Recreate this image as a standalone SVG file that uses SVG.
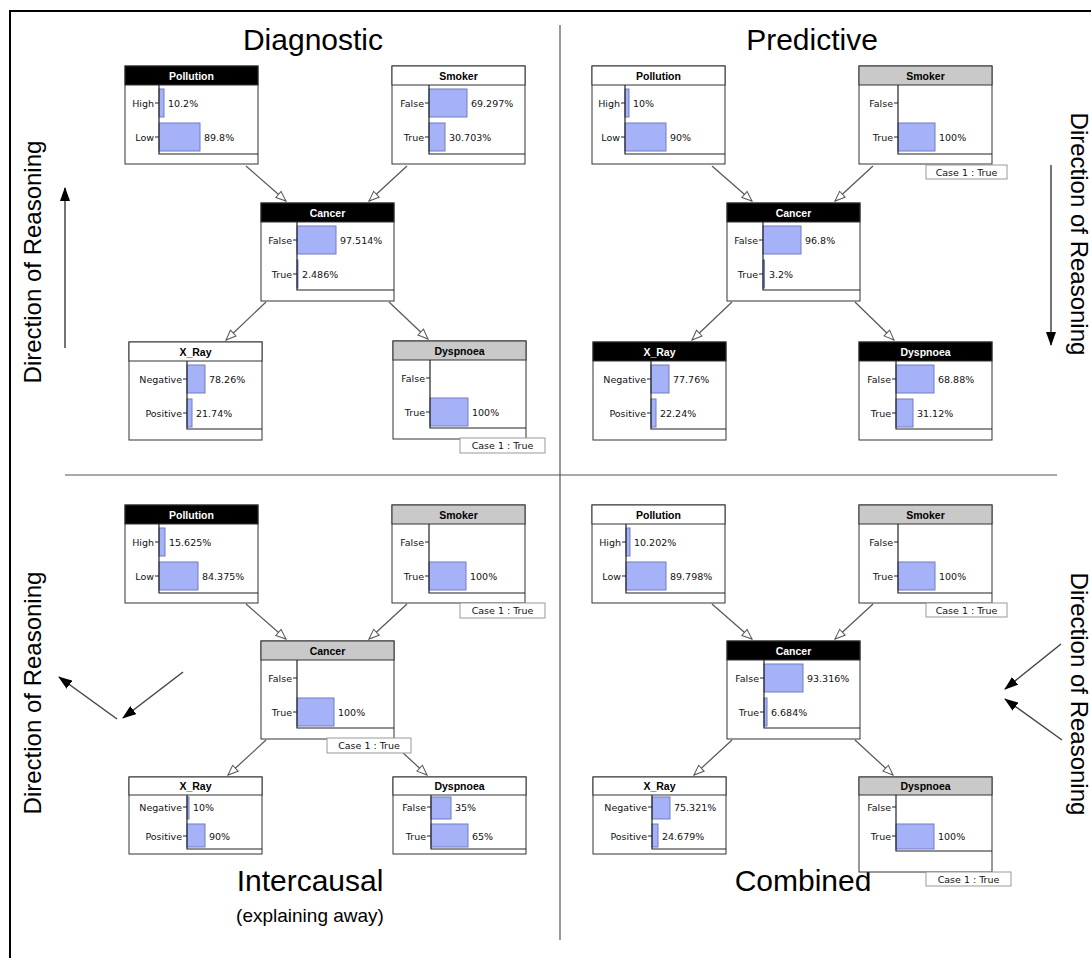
<svg xmlns="http://www.w3.org/2000/svg" width="1091" height="958" viewBox="0 0 1091 958">
<style>
.box{fill:#fff;stroke:#333;stroke-width:1}
.hb{fill:#000;stroke:#333;stroke-width:1}
.hg{fill:#c9c9c9;stroke:#333;stroke-width:1}
.hw{fill:#fff;stroke:#333;stroke-width:1}
.ht{font-family:"Liberation Sans",Arial,sans-serif;font-weight:bold;font-size:10.5px;text-anchor:middle;fill:#000}
.w{fill:#fff}
.lb{font-family:"DejaVu Sans",sans-serif;font-size:9.5px;text-anchor:end;fill:#111}
.val{font-family:"DejaVu Sans",sans-serif;font-size:9.5px;fill:#111}
.bar{fill:#a6b2f7;stroke:#6f7cc4;stroke-width:1}
.ax{fill:none;stroke:#222;stroke-width:1.2}
.case rect{fill:#fff;stroke:#999;stroke-width:1}
.case text{font-family:"DejaVu Sans",sans-serif;font-size:9.5px;text-anchor:middle;fill:#111}
.title{font-family:"Liberation Sans",Arial,sans-serif;font-size:30px;text-anchor:middle;fill:#000}
.sub{font-family:"Liberation Sans",Arial,sans-serif;font-size:19px;text-anchor:middle;fill:#000}
.dir{font-family:"Liberation Sans",Arial,sans-serif;font-size:24px;text-anchor:middle;fill:#000}
.edge{fill:none;stroke:#555;stroke-width:1.2;marker-end:url(#open)}
.darr{fill:none;stroke:#444;stroke-width:1.5;marker-end:url(#solid)}
.div{stroke:#555;stroke-width:1.2}
</style>
<defs>
<marker id="open" viewBox="0 0 12 10" refX="11" refY="5" markerWidth="12" markerHeight="10" markerUnits="userSpaceOnUse" orient="auto">
<path d="M1,1 L11,5 L1,9 Z" fill="#fff" stroke="#555" stroke-width="1"/>
</marker>
<marker id="solid" viewBox="0 0 14 10" refX="13" refY="5" markerWidth="14" markerHeight="10" markerUnits="userSpaceOnUse" orient="auto">
<path d="M0,0 L14,5 L0,10 Z" fill="#000"/>
</marker>
</defs>
<rect width="1091" height="958" fill="#fff"/>
<g id="frame">
<path d="M10,958 V11 H1091" fill="none" stroke="#000" stroke-width="2"/>
<line class="div" x1="560" y1="25" x2="560" y2="940"/>
<line class="div" x1="65" y1="475" x2="1057" y2="475"/>
</g>
<g id="labels">
<text class="title" x="313" y="50">Diagnostic</text>
<text class="title" x="812" y="50">Predictive</text>
<text class="title" x="310" y="891">Intercausal</text>
<text class="sub" x="310" y="922">(explaining away)</text>
<text class="title" x="803" y="891">Combined</text>
<text class="dir" transform="translate(41,262) rotate(-90)">Direction of Reasoning</text>
<text class="dir" transform="translate(1071,234) rotate(90)">Direction of Reasoning</text>
<text class="dir" transform="translate(41,693) rotate(-90)">Direction of Reasoning</text>
<text class="dir" transform="translate(1071,694) rotate(90)">Direction of Reasoning</text>
</g>
<g id="reasoning-arrows">
<path class="darr" d="M65,348 V188"/>
<path class="darr" d="M1051,165 V345"/>
<path class="darr" d="M183,672 L123,718"/>
<path class="darr" d="M117,719 L59,677"/>
<path class="darr" d="M1061,644 L1005,689"/>
<path class="darr" d="M1062,740 L1005,699"/>
</g>
<g id="connectors">
<path class="edge" d="M246,166 L286,201"/>
<path class="edge" d="M407,166 L369,201"/>
<path class="edge" d="M266,302 L226,340"/>
<path class="edge" d="M389,302 L428,339"/>
<path class="edge" d="M712,166 L752,201"/>
<path class="edge" d="M873,166 L835,201"/>
<path class="edge" d="M732,302 L692,340"/>
<path class="edge" d="M855,302 L894,340"/>
<path class="edge" d="M246,604 L286,639"/>
<path class="edge" d="M407,604 L369,639"/>
<path class="edge" d="M266,740 L228,775"/>
<path class="edge" d="M389,740 L427,775"/>
<path class="edge" d="M712,604 L752,639"/>
<path class="edge" d="M873,604 L835,639"/>
<path class="edge" d="M732,740 L694,775"/>
<path class="edge" d="M855,740 L893,775"/>
</g>

<!-- Q1 Diagnostic -->
<g id="q1-pollution" transform="translate(125,66)">
<rect class="box" width="133" height="98"/><rect class="hb" width="133" height="19"/>
<text class="ht w" x="66.5" y="14">Pollution</text>
<rect class="bar" x="34" y="23" width="5" height="28"/><rect class="bar" x="34" y="57" width="41" height="28"/>
<path class="ax" d="M34,19V88H133M30,37H34M30,71H34"/>
<text class="lb" x="29" y="41">High</text><text class="lb" x="29" y="75">Low</text>
<text class="val" x="43" y="41">10.2%</text><text class="val" x="79" y="75">89.8%</text>
</g>
<g id="q1-smoker" transform="translate(392,66)">
<rect class="box" width="133" height="98"/><rect class="hw" width="133" height="19"/>
<text class="ht" x="66.5" y="14">Smoker</text>
<rect class="bar" x="37" y="23" width="38" height="28"/><rect class="bar" x="37" y="57" width="16" height="28"/>
<path class="ax" d="M37,19V88H133M33,37H37M33,71H37"/>
<text class="lb" x="32" y="41">False</text><text class="lb" x="32" y="75">True</text>
<text class="val" x="79" y="41">69.297%</text><text class="val" x="57" y="75">30.703%</text>
</g>
<g id="q1-cancer" transform="translate(261,203)">
<rect class="box" width="133" height="98"/><rect class="hb" width="133" height="19"/>
<text class="ht w" x="66.5" y="14">Cancer</text>
<rect class="bar" x="36" y="23" width="39" height="28"/><rect class="bar" x="36" y="57" width="1" height="28"/>
<path class="ax" d="M36,19V87H133M32,37H36M32,71H36"/>
<text class="lb" x="31" y="41">False</text><text class="lb" x="31" y="75">True</text>
<text class="val" x="79" y="41">97.514%</text><text class="val" x="41" y="75">2.486%</text>
</g>
<g id="q1-xray" transform="translate(129,342)">
<rect class="box" width="133" height="98"/><rect class="hw" width="133" height="19"/>
<text class="ht" x="66.5" y="14">X_Ray</text>
<rect class="bar" x="58" y="23" width="18" height="28"/><rect class="bar" x="58" y="57" width="5" height="28"/>
<path class="ax" d="M58,19V87H133M54,37H58M54,71H58"/>
<text class="lb" x="53" y="41">Negative</text><text class="lb" x="53" y="75">Positive</text>
<text class="val" x="80" y="41">78.26%</text><text class="val" x="67" y="75">21.74%</text>
</g>
<g id="q1-dyspnoea" transform="translate(393,341)">
<rect class="box" width="133" height="98"/><rect class="hg" width="133" height="19"/>
<text class="ht" x="66.5" y="14">Dyspnoea</text>
<rect class="bar" x="37" y="57" width="38" height="28"/>
<path class="ax" d="M37,19V87H133M33,37H37M33,71H37"/>
<text class="lb" x="32" y="41">False</text><text class="lb" x="32" y="75">True</text>
<text class="val" x="79" y="75">100%</text>
<g class="case"><rect x="67" y="97" width="85" height="15"/><text x="109.5" y="108">Case 1 : True</text></g>
</g>

<!-- Q2 Predictive -->
<g id="q2-pollution" transform="translate(592,66)">
<rect class="box" width="133" height="98"/><rect class="hw" width="133" height="19"/>
<text class="ht" x="66.5" y="14">Pollution</text>
<rect class="bar" x="33" y="23" width="4" height="28"/><rect class="bar" x="33" y="57" width="41" height="28"/>
<path class="ax" d="M33,19V88H133M29,37H33M29,71H33"/>
<text class="lb" x="28" y="41">High</text><text class="lb" x="28" y="75">Low</text>
<text class="val" x="41" y="41">10%</text><text class="val" x="78" y="75">90%</text>
</g>
<g id="q2-smoker" transform="translate(859,66)">
<rect class="box" width="133" height="98"/><rect class="hg" width="133" height="19"/>
<text class="ht" x="66.5" y="14">Smoker</text>
<rect class="bar" x="39" y="57" width="37" height="28"/>
<path class="ax" d="M39,19V88H133M35,37H39M35,71H39"/>
<text class="lb" x="34" y="41">False</text><text class="lb" x="34" y="75">True</text>
<text class="val" x="80" y="75">100%</text>
<g class="case"><rect x="67" y="99" width="81" height="14"/><text x="107.5" y="110">Case 1 : True</text></g>
</g>
<g id="q2-cancer" transform="translate(727,203)">
<rect class="box" width="133" height="98"/><rect class="hb" width="133" height="19"/>
<text class="ht w" x="66.5" y="14">Cancer</text>
<rect class="bar" x="36" y="23" width="38" height="28"/><rect class="bar" x="36" y="57" width="1.5" height="28"/>
<path class="ax" d="M36,19V87H133M32,37H36M32,71H36"/>
<text class="lb" x="31" y="41">False</text><text class="lb" x="31" y="75">True</text>
<text class="val" x="78" y="41">96.8%</text><text class="val" x="42" y="75">3.2%</text>
</g>
<g id="q2-xray" transform="translate(593,342)">
<rect class="box" width="133" height="98"/><rect class="hb" width="133" height="19"/>
<text class="ht w" x="66.5" y="14">X_Ray</text>
<rect class="bar" x="58" y="23" width="18" height="28"/><rect class="bar" x="58" y="57" width="5" height="28"/>
<path class="ax" d="M58,19V87H133M54,37H58M54,71H58"/>
<text class="lb" x="53" y="41">Negative</text><text class="lb" x="53" y="75">Positive</text>
<text class="val" x="80" y="41">77.76%</text><text class="val" x="67" y="75">22.24%</text>
</g>
<g id="q2-dyspnoea" transform="translate(859,342)">
<rect class="box" width="133" height="98"/><rect class="hb" width="133" height="19"/>
<text class="ht w" x="66.5" y="14">Dyspnoea</text>
<rect class="bar" x="37" y="23" width="38" height="28"/><rect class="bar" x="37" y="57" width="17" height="28"/>
<path class="ax" d="M37,19V87H133M33,37H37M33,71H37"/>
<text class="lb" x="32" y="41">False</text><text class="lb" x="32" y="75">True</text>
<text class="val" x="79" y="41">68.88%</text><text class="val" x="58" y="75">31.12%</text>
</g>

<!-- Q3 Intercausal -->
<g id="q3-pollution" transform="translate(125,505)">
<rect class="box" width="133" height="98"/><rect class="hb" width="133" height="19"/>
<text class="ht w" x="66.5" y="14">Pollution</text>
<rect class="bar" x="34" y="23" width="6" height="28"/><rect class="bar" x="34" y="57" width="39" height="28"/>
<path class="ax" d="M34,19V88H133M30,37H34M30,71H34"/>
<text class="lb" x="29" y="41">High</text><text class="lb" x="29" y="75">Low</text>
<text class="val" x="44" y="41">15.625%</text><text class="val" x="77" y="75">84.375%</text>
</g>
<g id="q3-smoker" transform="translate(392,505)">
<rect class="box" width="133" height="98"/><rect class="hg" width="133" height="19"/>
<text class="ht" x="66.5" y="14">Smoker</text>
<rect class="bar" x="37" y="57" width="37" height="28"/>
<path class="ax" d="M37,19V88H133M33,37H37M33,71H37"/>
<text class="lb" x="32" y="41">False</text><text class="lb" x="32" y="75">True</text>
<text class="val" x="78" y="75">100%</text>
<g class="case"><rect x="68" y="98" width="85" height="15"/><text x="110.5" y="109">Case 1 : True</text></g>
</g>
<g id="q3-cancer" transform="translate(261,641)">
<rect class="box" width="133" height="98"/><rect class="hg" width="133" height="19"/>
<text class="ht" x="66.5" y="14">Cancer</text>
<rect class="bar" x="36" y="57" width="37" height="28"/>
<path class="ax" d="M36,19V87H133M32,37H36M32,71H36"/>
<text class="lb" x="31" y="41">False</text><text class="lb" x="31" y="75">True</text>
<text class="val" x="77" y="75">100%</text>
<g class="case"><rect x="66" y="97" width="84" height="15"/><text x="108" y="108">Case 1 : True</text></g>
</g>
<g id="q3-xray" transform="translate(129,777)">
<rect class="box" width="133" height="77"/><rect class="hw" width="133" height="18"/>
<text class="ht" x="66.5" y="13">X_Ray</text>
<rect class="bar" x="58" y="20" width="2" height="22"/><rect class="bar" x="58" y="47" width="18" height="23"/>
<path class="ax" d="M58,18V72H133M54,30H58M54,59H58"/>
<text class="lb" x="53" y="34">Negative</text><text class="lb" x="53" y="63">Positive</text>
<text class="val" x="64" y="34">10%</text><text class="val" x="80" y="63">90%</text>
</g>
<g id="q3-dyspnoea" transform="translate(393,777)">
<rect class="box" width="133" height="77"/><rect class="hw" width="133" height="18"/>
<text class="ht" x="66.5" y="13">Dyspnoea</text>
<rect class="bar" x="38" y="20" width="20" height="22"/><rect class="bar" x="38" y="47" width="37" height="23"/>
<path class="ax" d="M38,18V72H133M34,30H38M34,59H38"/>
<text class="lb" x="33" y="34">False</text><text class="lb" x="33" y="63">True</text>
<text class="val" x="62" y="34">35%</text><text class="val" x="79" y="63">65%</text>
</g>

<!-- Q4 Combined -->
<g id="q4-pollution" transform="translate(592,505)">
<rect class="box" width="133" height="98"/><rect class="hw" width="133" height="19"/>
<text class="ht" x="66.5" y="14">Pollution</text>
<rect class="bar" x="34" y="23" width="4" height="28"/><rect class="bar" x="34" y="57" width="40" height="28"/>
<path class="ax" d="M34,19V88H133M30,37H34M30,71H34"/>
<text class="lb" x="29" y="41">High</text><text class="lb" x="29" y="75">Low</text>
<text class="val" x="42" y="41">10.202%</text><text class="val" x="78" y="75">89.798%</text>
</g>
<g id="q4-smoker" transform="translate(859,505)">
<rect class="box" width="133" height="98"/><rect class="hg" width="133" height="19"/>
<text class="ht" x="66.5" y="14">Smoker</text>
<rect class="bar" x="39" y="57" width="37" height="28"/>
<path class="ax" d="M39,19V88H133M35,37H39M35,71H39"/>
<text class="lb" x="34" y="41">False</text><text class="lb" x="34" y="75">True</text>
<text class="val" x="80" y="75">100%</text>
<g class="case"><rect x="67" y="98" width="81" height="14"/><text x="107.5" y="109">Case 1 : True</text></g>
</g>
<g id="q4-cancer" transform="translate(727,641)">
<rect class="box" width="133" height="98"/><rect class="hb" width="133" height="19"/>
<text class="ht w" x="66.5" y="14">Cancer</text>
<rect class="bar" x="37" y="23" width="39" height="28"/><rect class="bar" x="37" y="57" width="3" height="28"/>
<path class="ax" d="M37,19V87H133M33,37H37M33,71H37"/>
<text class="lb" x="32" y="41">False</text><text class="lb" x="32" y="75">True</text>
<text class="val" x="80" y="41">93.316%</text><text class="val" x="44" y="75">6.684%</text>
</g>
<g id="q4-xray" transform="translate(593,777)">
<rect class="box" width="133" height="77"/><rect class="hw" width="133" height="18"/>
<text class="ht" x="66.5" y="13">X_Ray</text>
<rect class="bar" x="59" y="20" width="18" height="22"/><rect class="bar" x="59" y="47" width="6" height="23"/>
<path class="ax" d="M59,18V72H133M55,30H59M55,59H59"/>
<text class="lb" x="54" y="34">Negative</text><text class="lb" x="54" y="63">Positive</text>
<text class="val" x="81" y="34">75.321%</text><text class="val" x="69" y="63">24.679%</text>
</g>
<g id="q4-dyspnoea" transform="translate(859,777)">
<rect class="box" width="133" height="95"/><rect class="hg" width="133" height="18"/>
<text class="ht" x="66.5" y="13">Dyspnoea</text>
<rect class="bar" x="37" y="47" width="38" height="25"/>
<path class="ax" d="M37,18V74H133M33,30H37M33,59H37"/>
<text class="lb" x="32" y="34">False</text><text class="lb" x="32" y="63">True</text>
<text class="val" x="79" y="63">100%</text>
<g class="case"><rect x="67" y="95" width="85" height="14"/><text x="109.5" y="106">Case 1 : True</text></g>
</g>
</svg>
